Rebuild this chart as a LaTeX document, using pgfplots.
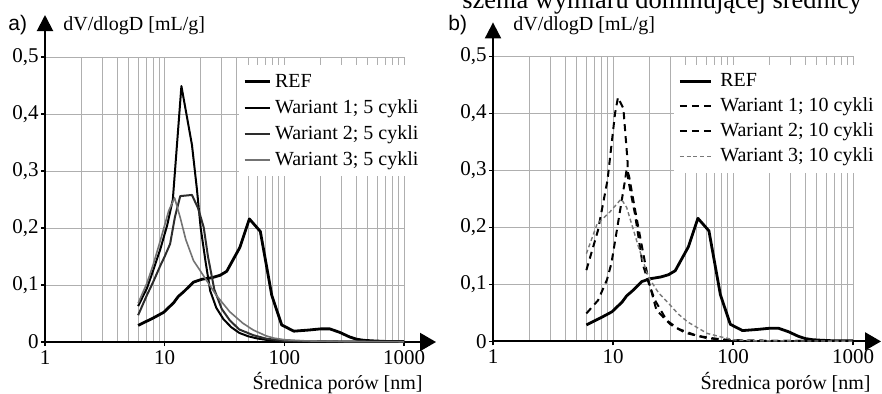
\documentclass[border=0pt]{standalone}
\usepackage{pgfplots}
\pgfplotsset{compat=1.18}
\usepackage{fontspec}
\setmainfont{Liberation Serif}
\newfontfamily\arialf{Liberation Sans}
\usetikzlibrary{arrows.meta}
\definecolor{gridc}{RGB}{175,175,175}
\definecolor{wtwo}{RGB}{45,45,45}
\definecolor{wthree}{RGB}{115,115,115}
\definecolor{wthreeb}{RGB}{120,120,120}

\begin{document}
\begin{tikzpicture}[x=1pt,y=1pt,font=\fontsize{10}{12}\selectfont]
\useasboundingbox (0,0) rectangle (441,196.5);

% ---------- panel a ----------
\begin{axis}[xmode=log, xmin=1, xmax=1000, ymin=0, ymax=0.5,
    scale only axis, width=179.5pt, height=142.5pt,
    at={(22.5pt,25.5pt)}, anchor=south west,
    axis lines=left,
    axis line style={line width=1pt},
    x axis line style={-{Triangle[length=8pt,width=9pt]}, shorten >=-16pt},
    y axis line style={-{Triangle[length=8pt,width=8pt]}, shorten >=-21pt},
    grid=both,
    major grid style={gridc, line width=0.5pt},
    minor grid style={gridc, line width=0.5pt},
    xtick={1,10,100,1000}, xticklabels={1,10,100,1000},
    ytick={0,0.1,0.2,0.3,0.4,0.5},
    yticklabels={0,{0,1},{0,2},{0,3},{0,4},{0,5}},
    tick align=outside, major tick length=2pt, minor tick length=0pt,
    tick style={black, line width=0.6pt},
    tick label style={font=\fontsize{10.5}{12.6}\selectfont},
    yticklabel style={inner xsep=1pt},
    xticklabel style={inner ysep=2pt},
    legend cell align=left,
    legend style={at={(0.540,0.972)}, draw=none, fill=white, anchor=north west, inner sep=2pt, row sep=0.5pt,
      column sep=1pt, font=\fontsize{10}{12}\selectfont,
      nodes={inner sep=1pt, text height=8pt, text depth=2.5pt}},
    legend image code/.code={\draw[#1] (0pt,0pt) -- (12.5pt,0pt);},
    every axis plot/.append style={no markers, line join=round}]
\addplot[black, line width=1.4pt] coordinates {
(6,0.029) (7,0.036) (8,0.042) (9.8,0.052) (11.9,0.069) (13,0.080) (14.4,0.088)
(17.4,0.105) (20.4,0.110) (25,0.113) (29,0.117) (33,0.124) (42.5,0.166) (51,0.216)
(63,0.194) (78.5,0.082) (95,0.030) (120,0.019) (160,0.021) (200,0.023)
(240,0.023) (290,0.017) (350,0.009) (400,0.005) (460,0.003) (550,0.002) (700,0.001) (1000,0.001)};
\addlegendentry{REF}
\addplot[black, line width=1pt] coordinates {
(6,0.063) (7.1,0.094) (8,0.125) (9.2,0.163) (10.5,0.205) (11.7,0.250) (13.8,0.449)
(16.9,0.346) (18.6,0.268) (20,0.200) (22,0.140) (24,0.090) (27,0.060) (31,0.040)
(36,0.026) (42,0.016) (50,0.010) (60,0.006) (75,0.003) (90,0.002) (150,0.001) (1000,0.0005)};
\addlegendentry{Wariant 1; 5 cykli}
\addplot[wtwo, line width=1pt] coordinates {
(6,0.047) (7.1,0.082) (8,0.105) (9.2,0.134) (10,0.150) (11.1,0.172) (12.2,0.220)
(13.5,0.256) (16.9,0.258) (19,0.235) (21.2,0.201) (23,0.150) (26,0.092) (30,0.058)
(35,0.038) (42,0.022) (55,0.012) (70,0.006) (100,0.002) (200,0.001) (1000,0.0005)};
\addlegendentry{Wariant 2; 5 cykli}
\addplot[wthree, line width=0.8pt] coordinates {
(6,0.068) (7.1,0.103) (8,0.135) (9.2,0.178) (10.8,0.230) (12.1,0.253) (13.5,0.218)
(15,0.180) (17.4,0.143) (21,0.117) (27,0.082) (35,0.053) (45,0.033) (55,0.021)
(70,0.011) (81,0.007) (100,0.004) (150,0.002) (300,0.001) (1000,0.0005)};
\addlegendentry{Wariant 3; 5 cykli}
\end{axis}

\node[anchor=base west, inner sep=0pt, font=\arialf\fontsize{10.5}{12.6}\selectfont] at (4,181.5) {a)};
\node[anchor=base west, inner sep=0pt] at (31.5,181.5) {dV/dlogD [mL/g]};
\node[anchor=base east, inner sep=0pt] at (211.5,2) {Średnica porów [nm]};

% ---------- panel b ----------
\begin{axis}[xmode=log, xmin=1, xmax=1000, ymin=0, ymax=0.5,
    scale only axis, width=180pt, height=142.5pt,
    at={(246.5pt,25.8pt)}, anchor=south west,
    axis lines=left,
    axis line style={line width=1pt},
    x axis line style={-{Triangle[length=8pt,width=9pt]}, shorten >=-14pt},
    y axis line style={-{Triangle[length=8pt,width=8pt]}, shorten >=-17pt},
    grid=both,
    major grid style={gridc, line width=0.5pt},
    minor grid style={gridc, line width=0.5pt},
    xtick={1,10,100,1000}, xticklabels={1,10,100,1000},
    ytick={0,0.1,0.2,0.3,0.4,0.5},
    yticklabels={0,{0,1},{0,2},{0,3},{0,4},{0,5}},
    tick align=outside, major tick length=2pt, minor tick length=0pt,
    tick style={black, line width=0.6pt},
    tick label style={font=\fontsize{10.5}{12.6}\selectfont},
    yticklabel style={inner xsep=1pt},
    xticklabel style={inner ysep=2pt},
    legend cell align=left,
    legend style={at={(0.503,0.972)}, draw=none, fill=white, anchor=north west, inner sep=2pt, row sep=0pt,
      column sep=3pt, font=\fontsize{10}{12}\selectfont,
      nodes={inner sep=1pt, text height=8pt, text depth=2.5pt}},
    legend image code/.code={\draw[#1] (0pt,0pt) -- (15.5pt,0pt);},
    every axis plot/.append style={no markers, line join=round}]
\addplot[black, line width=1.4pt] coordinates {
(6,0.029) (7,0.036) (8,0.042) (9.8,0.052) (11.9,0.069) (13,0.080) (14.4,0.088)
(17.4,0.105) (20.4,0.110) (25,0.113) (29,0.117) (33,0.124) (42.5,0.166) (51,0.216)
(63,0.194) (78.5,0.082) (95,0.030) (120,0.019) (160,0.021) (200,0.023)
(240,0.023) (290,0.017) (350,0.009) (400,0.005) (460,0.003) (550,0.002) (700,0.001) (1000,0.001)};
\addlegendentry{REF}
\addplot[black, line width=1pt, dash pattern=on 3.5pt off 2.5pt] coordinates {
(6,0.125) (7.5,0.195) (9,0.283) (10.4,0.400) (11,0.428) (12.2,0.409) (13.2,0.318)
(13.4,0.283) (15.2,0.225) (17.6,0.137) (20,0.100) (22.4,0.072) (28,0.037) (35,0.022)
(50,0.010) (70,0.005) (100,0.002) (200,0.001) (1000,0.0005)};
\addlegendentry{Wariant 1; 10 cykli}
\addplot[black, line width=1pt, dash pattern=on 3.5pt off 2.5pt] coordinates {
(6,0.049) (7.5,0.072) (8.9,0.108) (9.7,0.137) (11,0.207) (12.6,0.283) (13,0.302)
(13.6,0.290) (15,0.240) (16.8,0.184) (19.7,0.108) (23,0.055) (30,0.030) (40,0.015)
(60,0.006) (90,0.002) (200,0.001) (1000,0.0005)};
\addlegendentry{Wariant 2; 10 cykli}
\addplot[wthreeb, line width=0.7pt, dash pattern=on 2pt off 1.4pt] coordinates {
(6,0.154) (7.4,0.207) (8.2,0.215) (9.5,0.228) (11.7,0.250) (13,0.235) (16.3,0.166)
(19.7,0.113) (24,0.085) (29,0.067) (35,0.048) (42,0.034) (61,0.014) (79,0.008)
(100,0.003) (150,0.001) (1000,0.0005)};
\addlegendentry{Wariant 3; 10 cykli}
\end{axis}

\node[anchor=base west, inner sep=0pt, font=\arialf\fontsize{10.5}{12.6}\selectfont] at (224,181.5) {b)};
\node[anchor=base west, inner sep=0pt] at (256.5,181.5) {dV/dlogD [mL/g]};
\node[anchor=base east, inner sep=0pt] at (435.5,2) {Średnica porów [nm]};
\node[anchor=base west, inner sep=0pt, font=\fontsize{13.2}{15}\selectfont] at (231,192.2) {szenia wymiaru dominującej średnicy};
\end{tikzpicture}
\end{document}
